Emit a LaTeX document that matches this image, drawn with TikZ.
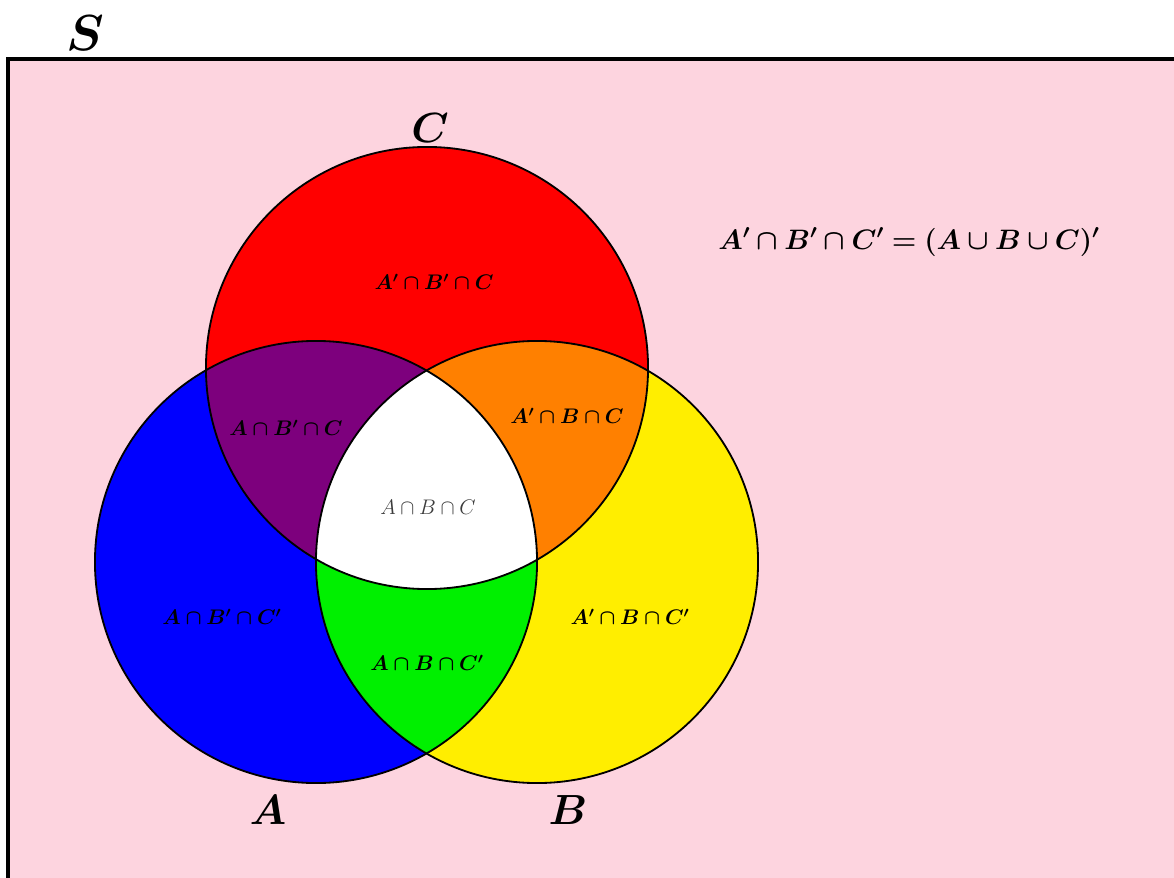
\RequirePackage{fix-cm}
\documentclass[tikz,border=0pt]{standalone}
\usepackage{amsmath,bm}
\usepackage{tikz}
\usetikzlibrary{positioning}
\definecolor{rz}{RGB}{253,212,223}
\definecolor{ro}{RGB}{255,0,0}
\definecolor{bl}{RGB}{0,0,255}
\definecolor{ge}{RGB}{255,238,0}
\definecolor{pa}{RGB}{125,0,125}
\definecolor{or}{RGB}{255,128,0}
\definecolor{gr}{RGB}{0,240,0}
\definecolor{dg}{RGB}{60,60,60}
\newcommand{\RB}[1]{$\boldsymbol{#1}$}
\tikzset{
  lbl/.style={font=\fontsize{15}{17}\selectfont},
  setname/.style={font=\fontsize{30}{34}\selectfont},
}

\begin{document}
\begin{tikzpicture}[x=0.025cm,y=-0.025cm]
  \clip (0,0) rectangle (1174,878);
  \fill[white] (0,0) rectangle (1174,878);
  \fill[rz] (8,59) rectangle (1190,900);
  \draw[line width=2.8pt] (8,900) -- (8,59) -- (1190,59);

  \coordinate (cA) at (316,562);
  \coordinate (cB) at (537,562);
  \coordinate (cC) at (427,368);
  \def\rr{5.525cm}

  % single sets
  \fill[ro] (cC) circle[radius=\rr];
  \fill[bl] (cA) circle[radius=\rr];
  \fill[ge] (cB) circle[radius=\rr];
  % two sets
  \begin{scope}
    \clip (cA) circle[radius=\rr];
    \fill[pa] (cC) circle[radius=\rr];
    \fill[gr] (cB) circle[radius=\rr];
  \end{scope}
  \begin{scope}
    \clip (cB) circle[radius=\rr];
    \fill[or] (cC) circle[radius=\rr];
  \end{scope}
  % three sets
  \begin{scope}
    \clip (cA) circle[radius=\rr];
    \clip (cB) circle[radius=\rr];
    \fill[white] (cC) circle[radius=\rr];
  \end{scope}
  \draw[line width=1.3pt] (cA) circle[radius=\rr];
  \draw[line width=1.3pt] (cB) circle[radius=\rr];
  \draw[line width=1.3pt] (cC) circle[radius=\rr];

  % names
  \node[font=\fontsize{36}{40}\selectfont] (nS) at (85,33) {\RB{S}};
  \node[setname] (nC) at (430,128) {\RB{C}};
  \node[setname] (nA) at (268,810) {\RB{A}};
  \node[setname] (nB) at (568,810) {\RB{B}};
  \node[font=\fontsize{20}{24}\selectfont] (eq) at (909,242)
    {\RB{A'\cap B'\cap C' = (A\cup B\cup C)'}};

  % regions
  \node[lbl] (r001) at (434,282) {\RB{A'\cap B'\cap C}};
  \node[lbl] (r101) at (286,428) {\RB{A\cap B'\cap C}};
  \node[lbl] (r011) at (567,416) {\RB{A'\cap B\cap C}};
  \node[lbl,text=dg] (r111) at (428,507) {$A\cap B\cap C$};
  \node[lbl] (r100) at (222,617) {\RB{A\cap B'\cap C'}};
  \node[lbl] (r010) at (630,617) {\RB{A'\cap B\cap C'}};
  \node[lbl] (r110) at (427,663) {\RB{A\cap B\cap C'}};
\end{tikzpicture}
\end{document}
